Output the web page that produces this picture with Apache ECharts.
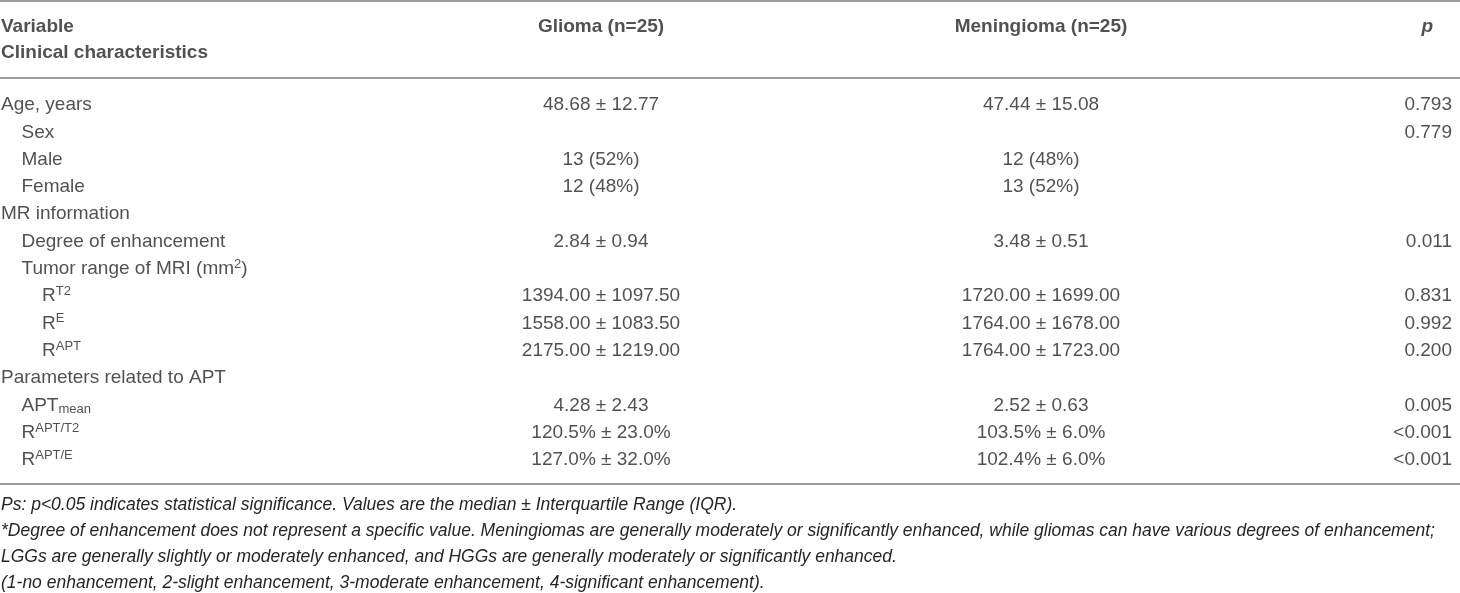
<!DOCTYPE html>
<html>
<head>
<meta charset="utf-8">
<style>
  html, body { margin: 0; padding: 0; background: #fff; }
  #main { width: 1460px; height: 593px; }
</style>
<script src="https://cdn.jsdelivr.net/npm/echarts@6/dist/echarts.min.js"></script>
</head>
<body>
<div id="main"></div>
<script>
var headerRows = ['Variable', 'Clinical characteristics'];
var columnTitles = ['Glioma (n=25)', 'Meningioma (n=25)', 'p'];

var rowNames = [
    'Age, years',
    'Sex',
    'Male',
    'Female',
    'MR information',
    'Degree of enhancement',
    'Tumor range of MRI (mm{sup|2})',
    'R{sup|T2}',
    'R{sup|E}',
    'R{sup|APT}',
    'Parameters related to APT',
    'APT{sub|mean}',
    'R{sup|APT/T2}',
    'R{sup|APT/E}'
];
var rowLevels = [0, 1, 1, 1, 0, 1, 1, 2, 2, 2, 0, 1, 1, 1];

var gliomaValues = [
    '48.68 ± 12.77', '', '13 (52%)', '12 (48%)', '', '2.84 ± 0.94', '',
    '1394.00 ± 1097.50', '1558.00 ± 1083.50', '2175.00 ± 1219.00', '',
    '4.28 ± 2.43', '120.5% ± 23.0%', '127.0% ± 32.0%'
];
var meningiomaValues = [
    '47.44 ± 15.08', '', '12 (48%)', '13 (52%)', '', '3.48 ± 0.51', '',
    '1720.00 ± 1699.00', '1764.00 ± 1678.00', '1764.00 ± 1723.00', '',
    '2.52 ± 0.63', '103.5% ± 6.0%', '102.4% ± 6.0%'
];
var pValues = [
    '0.793', '0.779', '', '', '', '0.011', '',
    '0.831', '0.992', '0.200', '', '0.005', '<0.001', '<0.001'
];

var notes = [
    'Ps: p<0.05 indicates statistical significance. Values are the median ± Interquartile Range (IQR).',
    '*Degree of enhancement does not represent a specific value. Meningiomas are generally moderately or significantly enhanced, while gliomas can have various degrees of enhancement;',
    'LGGs are generally slightly or moderately enhanced, and HGGs are generally moderately or significantly enhanced.',
    '(1-no enhancement, 2-slight enhancement, 3-moderate enhancement, 4-significant enhancement).'
];

var chart = echarts.init(document.getElementById('main'));

var font = 'Liberation Sans';
var textColor = '#262626';
var ruleColor = '#9c9c9c';

var rich = {
    sup: { fontSize: 13, lineHeight: 13, verticalAlign: 'top', fontFamily: font, color: textColor },
    sub: { fontSize: 13, lineHeight: 6, verticalAlign: 'bottom', fontFamily: font, color: textColor }
};

// each column sits in its own thin grid, anchor = grid centre
var columns = [
    { key: 'Variable', x: 1, align: 'left', cells: rowNames },
    { key: 'Glioma', x: 601, align: 'center', cells: gliomaValues },
    { key: 'Meningioma', x: 1041, align: 'center', cells: meningiomaValues },
    { key: 'p', x: 1452, align: 'right', cells: pValues }
];
var headBox = { top: 14, height: 52 };
var bodyBox = { top: 91.35, height: 382.2 };

var grids = [], xAxes = [], yAxes = [], series = [];

columns.forEach(function (col, c) {
    [headBox, bodyBox].forEach(function (box, b) {
        var gi = grids.length;
        grids.push({ left: col.x - 1, width: 2, top: box.top, height: box.height });
        xAxes.push({ type: 'category', gridIndex: gi, data: [col.key], show: false });
        yAxes.push({ type: 'category', gridIndex: gi, inverse: true, show: false,
            data: b === 0 ? headerRows : rowNames });

        var items = [];
        if (b === 0) {
            if (c === 0) {
                headerRows.forEach(function (h) {
                    items.push({ value: [col.key, h], name: h });
                });
            } else {
                var t = columnTitles[c - 1];
                var it = { value: [col.key, headerRows[0]], name: t };
                if (t === 'p') it.label = { fontStyle: 'italic', offset: [-19, 0] };
                items.push(it);
            }
        } else {
            col.cells.forEach(function (txt, i) {
                if (!txt) return;
                var it = { value: [col.key, rowNames[i]], name: txt };
                if (c === 0) it.label = { offset: [rowLevels[i] * 20.5, 0] };
                items.push(it);
            });
        }

        series.push({
            type: 'scatter',
            xAxisIndex: gi,
            yAxisIndex: gi,
            symbolSize: 0,
            silent: true,
            data: items,
            label: {
                show: true,
                position: 'inside',
                align: col.align,
                verticalAlign: 'middle',
                formatter: function (p) { return p.name; },
                fontFamily: font,
                fontSize: 19,
                lineHeight: 22,
                fontWeight: b === 0 ? 'bold' : 'normal',
                color: textColor,
                rich: rich
            }
        });
    });
});

var graphics = [
    { type: 'line', shape: { x1: 0, y1: 1, x2: 1460, y2: 1 }, style: { stroke: ruleColor, lineWidth: 2 } },
    { type: 'line', shape: { x1: 0, y1: 78, x2: 1460, y2: 78 }, style: { stroke: ruleColor, lineWidth: 2 } },
    { type: 'line', shape: { x1: 0, y1: 484, x2: 1460, y2: 484 }, style: { stroke: ruleColor, lineWidth: 2 } }
];
notes.forEach(function (n, i) {
    graphics.push({
        type: 'text',
        x: 1,
        y: 505 + i * 26,
        style: {
            text: n,
            fill: textColor,
            fontFamily: font,
            fontSize: 17.5,
            fontStyle: 'italic',
            verticalAlign: 'middle'
        }
    });
});

chart.setOption({
    animation: false,
    grid: grids,
    xAxis: xAxes,
    yAxis: yAxes,
    series: series,
    graphic: graphics
});
</script>
</body>
</html>
